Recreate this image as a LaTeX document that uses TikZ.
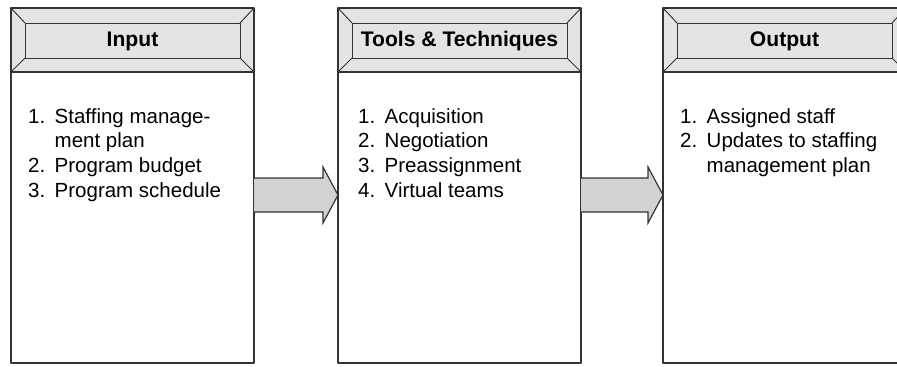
\documentclass[tikz,border=0pt]{standalone}
\usepackage{fontspec}
\setmainfont{Liberation Sans}
\usetikzlibrary{calc}
\definecolor{edge}{HTML}{333333}
\definecolor{hdrgray}{HTML}{E4E4E4}
\definecolor{arrgray}{HTML}{D2D2D2}
\newenvironment{steplist}{\begin{tabular}[t]{@{}l@{\hspace{8pt}}l@{}}}{\end{tabular}}
\tikzset{
	frame/.style={draw=edge, line width=1.5pt},
	bevel/.style={draw=edge, line width=0.8pt},
	title/.style={font=\fontsize{18}{21}\selectfont\bfseries, inner sep=0pt},
	list/.style={font=\fontsize{17.5}{21.3}\selectfont, anchor=base west, inner sep=0pt},
	blockarrow/.style={draw=edge, fill=arrgray, line width=1pt, line join=miter}
}
\begin{document}
\begin{tikzpicture}[x=0.03cm, y=-0.03cm, line join=round, declare function={w=243; m=14;}]
	\clip (0,0) rectangle (897,367);
	\fill[white] (0,0) rectangle (897,367);
	
	\foreach \x/\t [count=\i] in {11/Input,338/Tools \& Techniques,663/Output}{
		\fill[hdrgray] (\x,8) rectangle (\x+w,72);
		\draw[bevel] (\x,8)--(\x+m,23) (\x+w,8)--(\x+w-m,23) (\x,72)--(\x+m,58) (\x+w,72)--(\x+w-m,58);
		\draw[bevel] (\x+m,23) rectangle (\x+w-m,58);
		\node[title] (t\i) at (\x+w/2,41) {\t};
		\draw[frame] (\x,8) rectangle (\x+w,363);
		\draw[frame] (\x,72)--(\x+w,72);
		\path (\x,195) coordinate (W\i) (\x+w,195) coordinate (E\i);
	}
	
	\node[list] (l1) at (28,123) {\begin{steplist}
			1.&Staffing manage-\\
			&ment plan\\
			2.&Program budget\\
			3.&Program schedule
	\end{steplist}};
	\node[list] (l2) at (358,123) {\begin{steplist}
			1.&Acquisition\\
			2.&Negotiation\\
			3.&Preassignment\\
			4.&Virtual teams
	\end{steplist}};
	\node[list] (l3) at (680,123) {\begin{steplist}
			1.&Assigned staff\\
			2.&Updates to staffing\\
			&management plan
	\end{steplist}};
	
	\foreach \a/\b in {E1/W2,E2/W3}{
		\draw[blockarrow] ($(\a)+(0,-17)$)--($(\b)+(-15,-17)$)--($(\b)+(-15,-28)$)--(\b)
		--($(\b)+(-15,28)$)--($(\b)+(-15,17)$)--($(\a)+(0,17)$);
	}
\end{tikzpicture}
\end{document}
